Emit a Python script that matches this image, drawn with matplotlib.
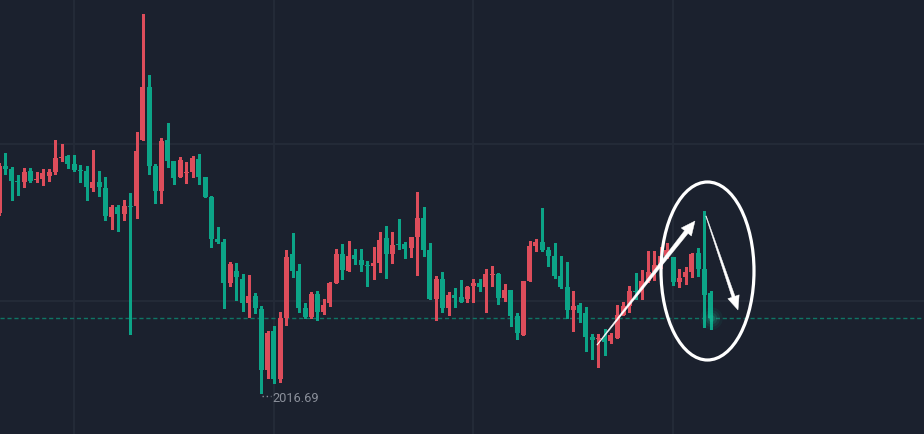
import matplotlib
matplotlib.use("Agg")
import matplotlib.pyplot as plt
import numpy as np
from matplotlib.patches import Polygon, Ellipse
from matplotlib import transforms

# ---- data (OHLC) ----
opens = [2062.40, 2074.34, 2073.57, 2070.53, 2070.27, 2073.07, 2070.78, 2071.03, 2071.80, 2072.81,
         2076.37, 2076.88, 2074.84, 2073.32, 2073.07, 2068.75, 2070.27, 2068.75, 2061.38, 2063.92,
         2062.14, 2064.18, 2064.18, 2080.94, 2094.40, 2074.34, 2067.99, 2080.94, 2075.61, 2071.54,
         2072.56, 2072.81, 2076.11, 2071.54, 2066.46, 2055.79, 2055.03, 2044.62, 2047.67, 2045.63,
         2039.54, 2041.32, 2038.01, 2022.52, 2032.43, 2020.23, 2035.73, 2051.98, 2047.67, 2038.27,
         2035.98, 2041.82, 2037.25, 2039.54, 2044.62, 2051.98, 2047.67, 2051.73, 2050.46, 2049.19,
         2048.94, 2049.70, 2056.05, 2051.98, 2054.52, 2054.52, 2053.51, 2056.30, 2061.13, 2053.00,
         2040.55, 2045.63, 2038.27, 2041.57, 2041.06, 2040.55, 2043.86, 2044.62, 2043.60, 2046.65,
         2046.90, 2040.81, 2042.84, 2036.24, 2031.41, 2045.13, 2054.02, 2055.03, 2053.00, 2051.48,
         2046.40, 2043.60, 2037.76, 2039.03, 2037.00, 2030.90, 2030.39, 2030.65, 2029.89, 2030.65,
         2036.49, 2038.78, 2042.59, 2042.59, 2045.13, 2047.41, 2049.19, 2051.48, 2051.22, 2044.87,
         2046.14, 2047.41, 2052.24, 2048.17, 2042.08]
highs = [2075.10, 2077.64, 2074.08, 2072.05, 2073.83, 2073.83, 2072.81, 2073.57, 2073.57, 2080.94,
         2079.92, 2077.13, 2077.13, 2074.59, 2074.34, 2078.40, 2073.07, 2071.54, 2064.43, 2064.43,
         2065.70, 2067.48, 2082.97, 2112.94, 2097.45, 2074.84, 2081.45, 2085.26, 2075.61, 2076.62,
         2075.35, 2076.88, 2077.38, 2071.54, 2066.72, 2058.84, 2055.79, 2049.95, 2049.70, 2046.90,
         2046.65, 2042.08, 2038.78, 2032.43, 2033.70, 2037.25, 2053.00, 2057.32, 2049.44, 2039.54,
         2042.33, 2042.59, 2040.55, 2044.87, 2053.25, 2054.52, 2055.29, 2053.25, 2053.25, 2050.21,
         2053.76, 2057.57, 2059.10, 2057.57, 2060.87, 2055.03, 2056.30, 2067.73, 2063.92, 2054.78,
         2046.40, 2047.41, 2042.33, 2043.35, 2045.38, 2043.86, 2045.63, 2045.63, 2048.17, 2048.94,
         2047.16, 2044.36, 2042.84, 2037.00, 2045.13, 2055.29, 2055.79, 2063.67, 2053.76, 2054.78,
         2051.48, 2049.95, 2042.59, 2039.54, 2038.52, 2031.66, 2031.66, 2032.93, 2031.92, 2039.03,
         2039.79, 2043.86, 2047.16, 2047.92, 2052.75, 2052.75, 2053.76, 2054.78, 2051.22, 2048.17,
         2048.68, 2052.24, 2053.51, 2062.91, 2042.59]
lows = [2061.89, 2072.30, 2065.70, 2066.97, 2069.00, 2070.27, 2070.27, 2069.51, 2070.53, 2072.30,
        2075.61, 2073.83, 2073.07, 2070.27, 2065.70, 2067.99, 2066.72, 2060.62, 2058.33, 2057.83,
        2060.62, 2031.66, 2061.13, 2080.94, 2072.30, 2064.94, 2064.94, 2074.08, 2069.76, 2071.54,
        2070.02, 2071.54, 2069.76, 2066.46, 2053.76, 2054.78, 2038.27, 2043.86, 2040.30, 2037.51,
        2035.98, 2037.00, 2016.69, 2020.49, 2019.22, 2019.47, 2033.95, 2046.14, 2037.25, 2035.73,
        2035.73, 2035.22, 2036.74, 2038.78, 2044.62, 2045.63, 2047.67, 2049.44, 2047.67, 2043.86,
        2045.63, 2047.41, 2045.89, 2049.70, 2053.25, 2050.97, 2051.22, 2046.65, 2051.48, 2040.55,
        2035.22, 2037.25, 2036.49, 2038.52, 2039.79, 2039.79, 2039.79, 2042.59, 2037.25, 2043.86,
        2039.28, 2040.05, 2033.70, 2030.39, 2031.41, 2045.13, 2052.75, 2052.75, 2048.94, 2045.89,
        2043.35, 2035.73, 2032.43, 2034.71, 2027.35, 2025.31, 2023.28, 2026.33, 2029.38, 2030.65,
        2036.49, 2037.25, 2040.55, 2040.55, 2044.87, 2045.38, 2048.43, 2050.97, 2044.11, 2043.60,
        2044.36, 2046.14, 2046.40, 2033.44, 2032.93]
closes = [2074.34, 2073.57, 2070.53, 2070.27, 2072.81, 2070.53, 2071.03, 2072.56, 2072.81, 2076.37,
          2076.62, 2074.84, 2073.32, 2073.07, 2069.00, 2070.27, 2069.00, 2061.64, 2063.92, 2062.14,
          2064.18, 2063.92, 2078.15, 2094.40, 2074.34, 2067.99, 2080.69, 2075.61, 2071.29, 2075.86,
          2072.81, 2076.37, 2071.54, 2066.46, 2055.79, 2055.03, 2044.62, 2049.44, 2046.14, 2039.54,
          2041.32, 2038.27, 2022.52, 2031.92, 2020.23, 2035.73, 2051.22, 2047.67, 2038.27, 2035.98,
          2041.82, 2037.25, 2039.03, 2044.62, 2051.98, 2047.92, 2051.48, 2050.71, 2049.19, 2048.94,
          2049.70, 2055.54, 2051.98, 2054.27, 2054.27, 2053.25, 2056.30, 2061.13, 2053.00, 2040.55,
          2045.63, 2038.27, 2041.57, 2040.81, 2039.79, 2043.60, 2044.62, 2043.60, 2046.90, 2046.90,
          2040.81, 2042.84, 2036.24, 2031.92, 2045.13, 2054.02, 2055.03, 2053.00, 2051.48, 2046.40,
          2043.60, 2037.76, 2038.78, 2037.00, 2030.90, 2030.14, 2030.65, 2029.63, 2031.41, 2036.49,
          2038.78, 2042.59, 2042.33, 2045.13, 2047.41, 2049.19, 2051.48, 2053.00, 2044.87, 2045.89,
          2047.41, 2051.98, 2048.17, 2041.57, 2035.73]
low_label = "2016.69"

# ---- style ----
BG = "#1b212e"
UP = "#dd4d5b"
DOWN = "#0ca487"
GRID = "#242b38"

W, H = 924, 434
fig = plt.figure(figsize=(W / 100, H / 100), dpi=100, facecolor=BG)
ax = fig.add_axes([0, 0, 1, 1])
ax.set_facecolor(BG)
for s in ax.spines.values():
    s.set_visible(False)
ax.set_xticks([])
ax.set_yticks([])

n = len(opens)
x = np.arange(n)
o = np.array(opens); h = np.array(highs); l = np.array(lows); c = np.array(closes)
up = c >= o
cols = np.where(up, UP, DOWN)

ax.set_xlim(0.12, 0.12 + W / 6.24)
ax.set_ylim(2006.26, 2116.5)

# grid
for gx in [12, 44, 76, 108]:
    ax.axvline(gx, color=GRID, lw=1.3, zorder=0)
for gy in [2040, 2080]:
    ax.axhline(gy, color=GRID, lw=1.3, zorder=0)

# last price dashed line
ax.axhline(c[-1], color="#0f7565", lw=1.0, ls=(0, (3, 2)), zorder=1)

# candles
ax.vlines(x, l, h, colors=cols, lw=1.0, zorder=2, antialiased=False)
bottoms = np.minimum(o, c)
heights = np.maximum(np.abs(c - o), 0.3)
ax.bar(x, heights, bottom=bottoms, width=0.8, color=cols, linewidth=0, zorder=3)

# glow at last candle
for s_, a_ in [(260, 0.06), (150, 0.09), (70, 0.14), (25, 0.25)]:
    ax.scatter([x[-1]], [c[-1]], s=s_, color="#19c9a0", alpha=a_, linewidths=0, zorder=4)

# low label
imin = int(np.argmin(l))
lt = transforms.offset_copy(ax.transData, fig=fig, x=1, y=-3, units="dots")
ax.plot([x[imin], x[imin] + 1.45], [l[imin], l[imin]], transform=lt,
        color="#8a8f9a", lw=1.0, ls=(0, (1, 2)), zorder=5)
ax.annotate(low_label, xy=(x[imin], l[imin]), xytext=(11.5, -6),
            textcoords="offset pixels", ha="left", va="center",
            fontsize=9.2, color="#8b909b", family=["Roboto", "DejaVu Sans"])

# annotations (pixel space, origin top-left)
def P(px, py):
    return (px / W, 1 - py / H)

def tapered_arrow(x0, y0, x1, y1, w0, w1, hl, hw):
    d = np.array([x1 - x0, y1 - y0], float)
    L = np.hypot(*d)
    u = d / L
    nrm = np.array([-u[1], u[0]])
    base = np.array([x1, y1]) - u * hl
    p0 = np.array([x0, y0])
    pts = [p0 + nrm * w0 / 2, base + nrm * w1 / 2, base + nrm * hw / 2,
           np.array([x1, y1]), base - nrm * hw / 2, base - nrm * w1 / 2, p0 - nrm * w0 / 2]
    return Polygon([P(*p) for p in pts], closed=True, transform=fig.transFigure,
                   facecolor="white", edgecolor="white", lw=0.3, zorder=10)

fig.patches.append(tapered_arrow(597, 345, 695, 221, 0.6, 4.5, 14, 13))
fig.patches.append(tapered_arrow(706, 216, 738, 310, 0.6, 3.2, 14, 12))

ell = Ellipse(P(707.5, 271), width=93 / W, height=178 / H, transform=fig.transFigure,
              facecolor="none", edgecolor="white", lw=2.3, zorder=10)
fig.patches.append(ell)

fig.savefig("out.png", dpi=100, facecolor=BG)
